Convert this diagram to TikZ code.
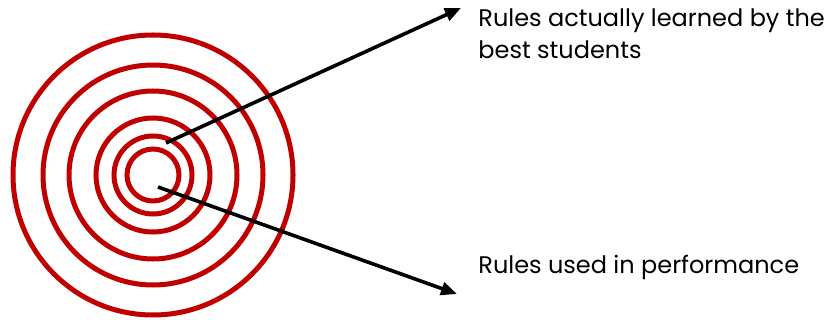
\documentclass[tikz,border=0pt]{standalone}
\usepackage{fontspec}
\setmainfont{Poppins}
\usepackage{tikz}
\usetikzlibrary{arrows.meta,positioning}
\usepackage{xcolor}
\definecolor{ringred}{HTML}{C00000}

\begin{document}
\begin{tikzpicture}[x=0.5pt,y=-0.5pt,every node/.style={font=\fontsize{12pt}{16pt}\selectfont}]
\tikzset{ring/.style={draw=ringred,line width=2.5pt},
         pointer/.style={line width=1.8pt,-{Triangle[length=8pt,width=6.5pt]}}}
\useasboundingbox (0,0) rectangle (828,320);
\coordinate (c) at (153,175);
\foreach \r in {140,110,84,57,39,26} \draw[ring] (c) circle[radius=\r];
\coordinate (inner) at (166,143);
\coordinate (core) at (158,187);
\coordinate (tiplearned) at (461,8);
\coordinate (tipused) at (457,294);
\node[anchor=base west,align=left,inner sep=0pt] (learned) at (478,59) {Rules actually learned by the\\best students};
\node[anchor=base west,inner sep=0pt] (used) at (478,273) {Rules used in performance};
\draw[pointer] (inner) -- (tiplearned);
\draw[pointer] (core) -- (tipused);
\end{tikzpicture}
\end{document}
